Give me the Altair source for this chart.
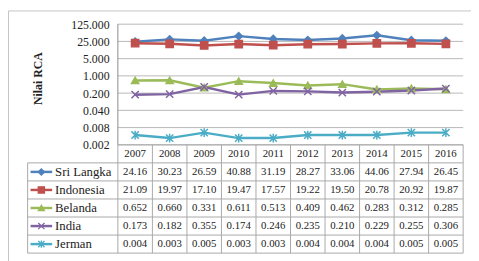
import altair as alt
import numpy as np
import pandas as pd

# ---------------- data ----------------
years = [2007, 2008, 2009, 2010, 2011, 2012, 2013, 2014, 2015, 2016]
series_names = ["Sri Langka", "Indonesia", "Belanda", "India", "Jerman"]
sri_langka = [24.16, 30.23, 26.59, 40.88, 31.19, 28.27, 33.06, 44.06, 27.94, 26.45]
indonesia = [21.09, 19.97, 17.10, 19.47, 17.57, 19.22, 19.50, 20.78, 20.92, 19.87]
belanda = [0.652, 0.660, 0.331, 0.611, 0.513, 0.409, 0.462, 0.283, 0.312, 0.285]
india = [0.173, 0.182, 0.355, 0.174, 0.246, 0.235, 0.210, 0.229, 0.255, 0.306]
jerman = [0.004, 0.003, 0.005, 0.003, 0.003, 0.004, 0.004, 0.004, 0.005, 0.005]
decimals = [2, 2, 3, 3, 3]
y_ticks = [0.0016, 0.008, 0.04, 0.2, 1, 5, 25, 125]
y_title = "Nilai RCA"

# ---------------- styles ----------------
colors = ["#4F81BD", "#C0504D", "#9BBB59", "#8064A2", "#4BACC6"]
X_PATH = "M-1,-1L1,1M-1,1L1,-1"
STAR_PATH = "M-1,-1L1,1M-1,1L1,-1M0,-1.2L0,1.2"
shapes = ["diamond", "square", "triangle-up", X_PATH, STAR_PATH]
FONT = "Liberation Serif"
GRID = "#b8b8b8"
TABLE_LINE = "#a8a8a8"
TEXT = "#222222"

# ---------------- layout (pixels inside the view) ----------------
W, H = 472, 256
col0_px, col_w = 112, 35.2
top_px, bot_px = 14, 137
row_h = 18.4
legend_left = (20 - col0_px) / col_w
x_dom = [-col0_px / col_w, (W - col0_px) / col_w]
dec = (bot_px - top_px) / (len(y_ticks) - 1)
ylog_dom = [y_ticks[0] / 5 ** ((H - bot_px) / dec), y_ticks[-1] * 5 ** (top_px / dec)]
row_dom = [-bot_px / row_h, (H - bot_px) / row_h]

xs = alt.Scale(domain=x_dom, nice=False, zero=False)
ys_log = alt.Scale(type="log", base=5, domain=ylog_dom, nice=False)
ys_row = alt.Scale(domain=row_dom, nice=False, zero=False, reverse=True)
cs = alt.Scale(domain=series_names, range=colors)
ss = alt.Scale(domain=series_names, range=shapes)

# ---------------- tables ----------------
values = [sri_langka, indonesia, belanda, india, jerman]
rows = []
for s, (name, vals, d) in enumerate(zip(series_names, values, decimals)):
    for i, v in enumerate(vals):
        rows.append({"series": name, "xi": i + 0.5, "value": v,
                     "label": f"{v:.{d}f}", "row": s + 1.5})
long_df = pd.DataFrame(rows)

grid_df = pd.DataFrame({"y": y_ticks, "x0": 0, "x1": len(years)})
axis_line_df = pd.DataFrame({"x": [0], "y0": [y_ticks[0]], "y1": [y_ticks[-1]]})

n_rows = len(series_names) + 1
h_df = pd.DataFrame({"r": list(range(n_rows + 1)),
                     "x0": [0] + [legend_left] * n_rows,
                     "x1": [len(years)] * (n_rows + 1)})
v_df = pd.DataFrame({"x": list(range(len(years) + 1)) + [legend_left],
                     "r0": [0] * (len(years) + 1) + [1],
                     "r1": [n_rows] * (len(years) + 2)})
head_df = pd.DataFrame({"xi": [i + 0.5 for i in range(len(years))],
                        "row": 0.5, "label": [str(y) for y in years]})
leg_df = pd.DataFrame({"series": series_names,
                       "row": [s + 1.5 for s in range(len(series_names))],
                       "lx0": (23 - col0_px) / col_w, "lx1": (45 - col0_px) / col_w,
                       "mx": (34 - col0_px) / col_w, "tx": (48 - col0_px) / col_w})

# ---------------- layers ----------------
grid = alt.Chart(grid_df).mark_rule(color=GRID, strokeWidth=1).encode(
    x=alt.X("x0:Q", scale=xs, axis=None), x2="x1:Q",
    y=alt.Y("y:Q", scale=ys_log, axis=alt.Axis(
        values=y_ticks, format=".3f", orient="left", offset=-col0_px,
        domain=False, ticks=False, grid=False, labelPadding=9,
        labelFont=FONT, labelFontSize=12, labelColor=TEXT,
        title=y_title, titleFont=FONT, titleFontSize=12, titleFontWeight="bold",
        titleColor=TEXT, titleX=30 - col0_px, titleY=69, titleAngle=270,
        titleAlign="center", titleBaseline="middle")))

axis_line = alt.Chart(axis_line_df).mark_rule(color="#8c8c8c", strokeWidth=1).encode(
    x=alt.X("x:Q", scale=xs, axis=None),
    y=alt.Y("y0:Q", scale=ys_log, axis=None), y2="y1:Q")

hlines = alt.Chart(h_df).mark_rule(color=TABLE_LINE, strokeWidth=1).encode(
    x=alt.X("x0:Q", scale=xs, axis=None), x2="x1:Q",
    y=alt.Y("r:Q", scale=ys_row, axis=None))
vlines = alt.Chart(v_df).mark_rule(color=TABLE_LINE, strokeWidth=1).encode(
    x=alt.X("x:Q", scale=xs, axis=None),
    y=alt.Y("r0:Q", scale=ys_row, axis=None), y2="r1:Q")

lines = alt.Chart(long_df).mark_line(strokeWidth=2.5).encode(
    x=alt.X("xi:Q", scale=xs, axis=None),
    y=alt.Y("value:Q", scale=ys_log, axis=None),
    color=alt.Color("series:N", scale=cs, legend=None),
    detail="series:N")
points = alt.Chart(long_df).mark_point(filled=True, size=55, strokeWidth=1.5, opacity=1).encode(
    x=alt.X("xi:Q", scale=xs, axis=None),
    y=alt.Y("value:Q", scale=ys_log, axis=None),
    fill=alt.Fill("series:N", scale=cs, legend=None),
    stroke=alt.Stroke("series:N", scale=cs, legend=None),
    shape=alt.Shape("series:N", scale=ss, legend=None))

header = alt.Chart(head_df).mark_text(font=FONT, fontSize=11, color=TEXT).encode(
    x=alt.X("xi:Q", scale=xs, axis=None),
    y=alt.Y("row:Q", scale=ys_row, axis=None), text="label:N")
cells = alt.Chart(long_df).mark_text(font=FONT, fontSize=11, color=TEXT).encode(
    x=alt.X("xi:Q", scale=xs, axis=None),
    y=alt.Y("row:Q", scale=ys_row, axis=None), text="label:N")

leg_lines = alt.Chart(leg_df).mark_rule(strokeWidth=2.5).encode(
    x=alt.X("lx0:Q", scale=xs, axis=None), x2="lx1:Q",
    y=alt.Y("row:Q", scale=ys_row, axis=None),
    color=alt.Color("series:N", scale=cs, legend=None))
leg_points = alt.Chart(leg_df).mark_point(filled=True, size=40, strokeWidth=1.3, opacity=1).encode(
    x=alt.X("mx:Q", scale=xs, axis=None),
    y=alt.Y("row:Q", scale=ys_row, axis=None),
    fill=alt.Fill("series:N", scale=cs, legend=None),
    stroke=alt.Stroke("series:N", scale=cs, legend=None),
    shape=alt.Shape("series:N", scale=ss, legend=None))
leg_text = alt.Chart(leg_df).mark_text(font=FONT, fontSize=13, color=TEXT, align="left").encode(
    x=alt.X("tx:Q", scale=xs, axis=None),
    y=alt.Y("row:Q", scale=ys_row, axis=None), text="series:N")

chart = alt.layer(
    grid, axis_line, hlines, vlines, lines, points,
    header, cells, leg_lines, leg_points, leg_text
).resolve_scale(y="independent").properties(
    width=W, height=H, padding=0,
    autosize=alt.AutoSizeParams(type="none"),
    background="white"
).configure(font=FONT).configure_view(stroke="#c4c4c4", strokeWidth=1)

chart.save("out.html", embed_options={"renderer": "svg", "actions": False})
